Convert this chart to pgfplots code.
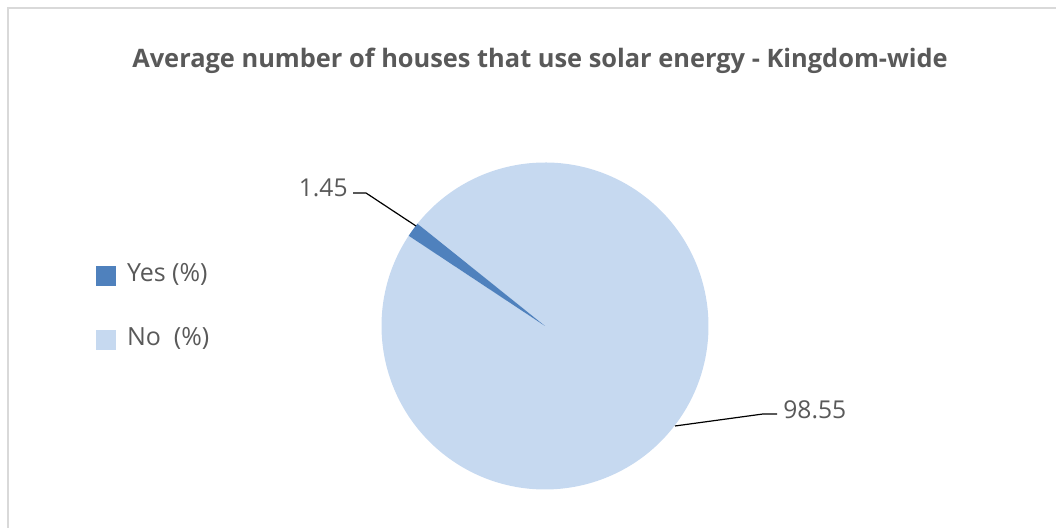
\documentclass[border=0pt]{standalone}
\usepackage{pgfplots}
\usepackage{pgfplotstable}
\pgfplotsset{compat=1.18}
\usepackage{fontspec}
\setmainfont{Open Sans}
\pgfkeys{/pgf/number format/assume math mode=true}

\definecolor{yescol}{HTML}{4F81BD}
\definecolor{nocol}{HTML}{C6D9F0}
\definecolor{txtgray}{HTML}{595959}
\definecolor{framegray}{HTML}{D9D9D9}

% share of houses, percent
\pgfplotstableread{
label value
Yes   1.45
No    98.55
}\solartable

\begin{document}
\begin{tikzpicture}
\pgfplotstablegetelem{0}{value}\of\solartable
\let\yesval\pgfplotsretval
\pgfplotstablegetelem{1}{value}\of\solartable
\let\noval\pgfplotsretval
\pgfmathsetmacro{\startang}{146.5}
\pgfmathsetmacro{\midang}{\startang-3.6*\yesval}
\pgfmathsetmacro{\endang}{\midang-3.6*\noval}
\begin{axis}[
    name=ax,
    anchor=south west,
    at={(0,0)},
    x=0.5pt, y=0.5pt,
    xmin=0, xmax=1056, ymin=0, ymax=528,
    hide axis,
    clip=false,
  ]
  % frame (pixel coords, y measured from bottom)
  \draw[framegray, line width=1pt] (axis cs:8,0) -- (axis cs:8,520) -- (axis cs:1056,520);
  % title
  \node[txtgray, font=\fontsize{12.7}{15}\selectfont\bfseries] at (axis cs:540,467) {Average number of houses that use solar energy - Kingdom-wide};
  % slices
  \fill[nocol] (axis cs:545,202) -- +(\midang:81.75pt) arc[start angle=\midang, end angle=\endang, radius=81.75pt] -- cycle;
  \fill[yescol] (axis cs:545,202) -- +(\startang:81.75pt) arc[start angle=\startang, end angle=\midang, radius=81.75pt] -- cycle;
  % leader lines and labels
  \draw[black, line width=0.6pt] (axis cs:353,335) -- (axis cs:366,335) -- (axis cs:416,302);
  \node[txtgray, font=\fontsize{12.3}{14}\selectfont, anchor=east, inner sep=1pt] at (axis cs:350,340) {\pgfmathprintnumber[fixed,precision=2,fixed zerofill]{\yesval}};
  \draw[black, line width=0.6pt] (axis cs:675,102) -- (axis cs:763,114) -- (axis cs:777,114);
  \node[txtgray, font=\fontsize{12.3}{14}\selectfont, anchor=west, inner sep=1pt] at (axis cs:781,118) {\pgfmathprintnumber[fixed,precision=2,fixed zerofill]{\noval}};
  % legend
  \fill[yescol] (axis cs:96,242) rectangle (axis cs:116,262);
  \node[txtgray, font=\fontsize{12.5}{14}\selectfont, anchor=west] at (axis cs:120,254) {Yes (\%)};
  \fill[nocol] (axis cs:96,178) rectangle (axis cs:116,198);
  \node[txtgray, font=\fontsize{12.5}{14}\selectfont, anchor=west] at (axis cs:120,190) {No\ \ (\%)};
\end{axis}
\pgfresetboundingbox
\useasboundingbox (ax.south west) rectangle (ax.north east);
\end{tikzpicture}
\end{document}
